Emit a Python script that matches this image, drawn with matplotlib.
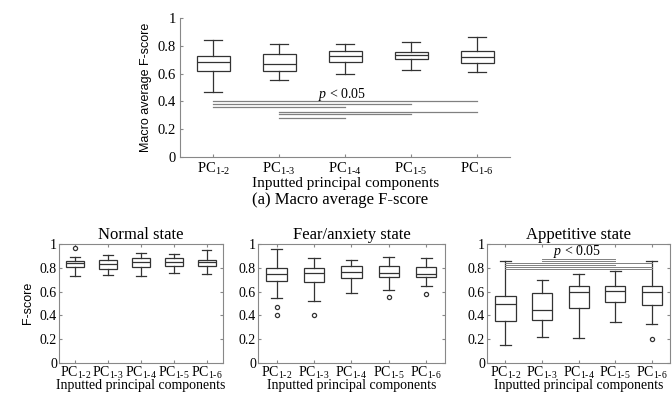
import matplotlib
matplotlib.use("Agg")
import matplotlib.pyplot as plt

plt.rcParams['font.family'] = ['Liberation Serif', 'DejaVu Serif']
plt.rcParams['mathtext.fontset'] = 'custom'
plt.rcParams['mathtext.rm'] = 'Liberation Serif'
plt.rcParams['mathtext.it'] = 'Liberation Serif:italic'

categories = ['1-2', '1-3', '1-4', '1-5', '1-6']
tick_labels = ['PC$_{\\mathrm{' + c.replace('-', '\\text{-}') + '}}$' for c in categories]

# stats: (whislo, q1, med, q3, whishi, outliers)
macro_stats = [
    (0.47, 0.619, 0.687, 0.728, 0.845, []),
    (0.554, 0.619, 0.670, 0.742, 0.814, []),
    (0.598, 0.687, 0.728, 0.766, 0.814, []),
    (0.627, 0.704, 0.735, 0.759, 0.827, []),
    (0.610, 0.675, 0.723, 0.764, 0.863, []),
]
normal_stats = [
    (0.730, 0.811, 0.838, 0.854, 0.895, [0.968]),
    (0.743, 0.792, 0.832, 0.865, 0.905, []),
    (0.730, 0.805, 0.846, 0.881, 0.927, []),
    (0.759, 0.819, 0.851, 0.881, 0.919, []),
    (0.751, 0.814, 0.846, 0.870, 0.954, []),
]
fear_stats = [
    (0.543, 0.689, 0.746, 0.797, 0.959, [0.473, 0.405]),
    (0.522, 0.684, 0.757, 0.797, 0.886, [0.405]),
    (0.589, 0.711, 0.765, 0.814, 0.868, []),
    (0.616, 0.724, 0.757, 0.814, 0.892, [0.554]),
    (0.649, 0.719, 0.751, 0.805, 0.886, [0.581]),
]
appetitive_stats = [
    (0.148, 0.355, 0.495, 0.560, 0.855, []),
    (0.213, 0.363, 0.447, 0.584, 0.700, []),
    (0.205, 0.461, 0.592, 0.647, 0.745, []),
    (0.345, 0.513, 0.603, 0.647, 0.771, []),
    (0.324, 0.489, 0.595, 0.647, 0.855, [0.197]),
]

# significance bars: (start index, end index, y)
macro_sig = [(0, 4, 0.405), (0, 3, 0.381), (0, 2, 0.362),
             (1, 4, 0.326), (1, 3, 0.307), (1, 2, 0.283)]
appetitive_sig = [(1, 3, 0.877), (1, 3, 0.861), (0, 4, 0.842),
                  (0, 3, 0.826), (0, 4, 0.810), (0, 4, 0.794)]

yticks = [0, 0.2, 0.4, 0.6, 0.8, 1.0]
ytick_labels = ['0', '0.2', '0.4', '0.6', '0.8', '1']

EDGE = '#333333'
SPINE = '#888888'


def to_bxp(stats):
    out = []
    for lo, q1, med, q3, hi, fl in stats:
        out.append(dict(whislo=lo, q1=q1, med=med, q3=q3, whishi=hi, fliers=fl))
    return out


def draw(ax, stats, width, capw, box=True, tsize=10):
    ax.bxp(to_bxp(stats), positions=range(1, 6), widths=width, capwidths=capw,
           showfliers=True, patch_artist=True,
           boxprops=dict(facecolor='white', edgecolor=EDGE, linewidth=0.9),
           medianprops=dict(color=EDGE, linewidth=0.9),
           whiskerprops=dict(color=EDGE, linewidth=0.9),
           capprops=dict(color=EDGE, linewidth=0.9),
           flierprops=dict(marker='o', markersize=3, markerfacecolor='white',
                           markeredgecolor=EDGE, markeredgewidth=0.9))
    ax.set_xlim(0.5, 5.5)
    ax.set_ylim(0, 1)
    ax.set_yticks(yticks)
    ax.set_yticklabels(ytick_labels, fontsize=tsize)
    ax.set_xticks(range(1, 6))
    ax.set_xticklabels(tick_labels, fontsize=tsize)
    for s in ax.spines.values():
        s.set_color(SPINE)
        s.set_linewidth(0.8)
    if box:
        ax.tick_params(direction='in', length=2.5, color=SPINE, top=True, right=True, pad=1.5)
    else:
        ax.spines['top'].set_visible(False)
        ax.spines['right'].set_visible(False)
        ax.tick_params(direction='in', length=2.5, color=SPINE, pad=3)


fig = plt.figure(figsize=(6.72, 3.95), dpi=100)

ax0 = fig.add_axes([0.268, 0.603, 0.491, 0.351])
draw(ax0, macro_stats, 0.5, 0.27, box=False, tsize=10.5)
for i, j, y in macro_sig:
    ax0.plot([i + 1, j + 1], [y, y], color='#808080', lw=0.9)
ax0.text(2.95, 0.45, '$p$ < 0.05', ha='center', va='center', fontsize=10)
ax0.set_xlabel('Inputted principal components', fontsize=11, labelpad=0)
ax0.set_ylabel('Macro average F-score', fontsize=9, family='Liberation Sans', labelpad=4)
fig.text(0.506, 0.494, '(a) Macro average F-score', ha='center', va='center', fontsize=12)

titles = ['Normal state', 'Fear/anxiety state', 'Appetitive state']
all_stats = [normal_stats, fear_stats, appetitive_stats]
rects = [[0.0878, 0.082, 0.244, 0.300],
         [0.384, 0.082, 0.278, 0.300],
         [0.725, 0.082, 0.272, 0.300]]
for k in range(3):
    ax = fig.add_axes(rects[k])
    draw(ax, all_stats[k], 0.55, 0.3, box=True, tsize=10)
    ax.set_title(titles[k], fontsize=12, pad=4)
    ax.set_xlabel('Inputted principal components', fontsize=10, labelpad=-1)
    if k == 0:
        ax.set_ylabel('F-score', fontsize=9, family='Liberation Sans', labelpad=4)
    if k == 2:
        for i, j, y in appetitive_sig:
            ax.plot([i + 1, j + 1], [y, y], color='#808080', lw=0.7)
        ax.text(2.95, 0.935, '$p$ < 0.05', ha='center', va='center', fontsize=10)

fig.savefig('out.png', dpi=100)
